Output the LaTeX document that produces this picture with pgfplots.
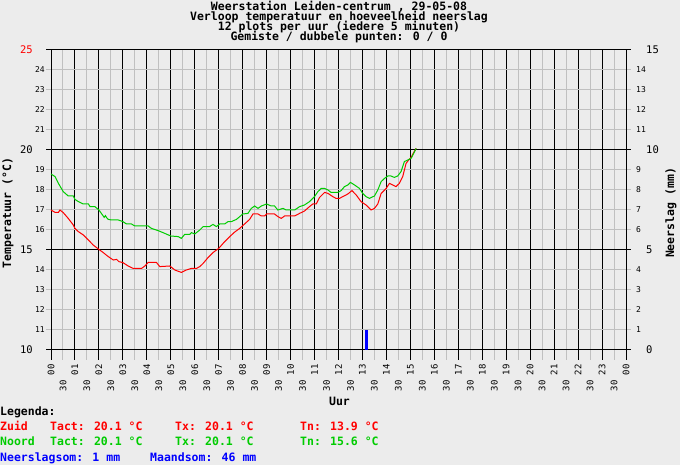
\documentclass[border=0pt]{standalone}
\usepackage{fontspec}
\setmainfont{DejaVu Sans Mono}
\setmonofont{DejaVu Sans Mono}
\usepackage{pgfplots}
\pgfplotsset{compat=1.18}
\definecolor{bg}{RGB}{236,236,236}
\definecolor{gridgray}{RGB}{192,192,192}
\definecolor{mygreen}{RGB}{0,204,0}
\definecolor{myred}{RGB}{255,0,0}
\definecolor{myblue}{RGB}{0,0,255}
\newcommand\tf{\fontsize{8}{8}\selectfont}
\newcommand\xf{\fontsize{9}{9}\selectfont}
\newcommand\minl[1]{{\tf #1}}
\newcommand\majl[1]{{\fontsize{10.5}{10}\selectfont #1}\hspace*{12pt}}
\newcommand\rmajl[1]{\hspace*{10pt}{\fontsize{10.5}{10}\selectfont #1}}
\newcommand\lf{\fontsize{11.5}{12}\selectfont}
\begin{document}
\begin{tikzpicture}
\useasboundingbox (0pt,0pt) rectangle (680pt,465pt);
\fill[bg] (0pt,0pt) rectangle (680pt,465pt);
\begin{axis}[
  at={(51pt,115pt)}, anchor=south west,
  width=575pt, height=300pt, scale only axis,
  xmin=0, xmax=24, ymin=10, ymax=25,
  axis line style={line width=1pt, black},
  xtick={0,...,24},
  xticklabels={00,01,02,03,04,05,06,07,08,09,10,11,12,13,14,15,16,17,18,19,20,21,22,23,00},
  minor x tick num=1,
  ytick={10,...,25},
  yticklabels={\majl{10},\minl{11},\minl{12},\minl{13},\minl{14},\majl{15},\minl{16},\minl{17},\minl{18},\minl{19},\majl{20},\minl{21},\minl{22},\minl{23},\minl{24},\majl{\textcolor{myred}{25}}},
  xmajorgrids, xminorgrids, ymajorgrids,
  major x grid style={black, line width=1pt},
  minor x grid style={gridgray, line width=1pt},
  major y grid style={gridgray, line width=1pt},
  major tick length=0pt, minor tick length=0pt,
  xticklabel style={font=\xf, yshift=-14pt, rotate=90, anchor=east, inner sep=0pt},
  yticklabel style={anchor=east, inner sep=0pt, xshift=-6pt},
  clip=false,
]
% grid extensions and heavy lines
\pgfplotsinvokeforeach{11,12,13,14,16,17,18,19,21,22,23,24}{
  \draw[gridgray, line width=1pt] ([xshift=-5pt]axis cs:0,#1) -- (axis cs:0,#1);
  \draw[gridgray, line width=1pt] (axis cs:24,#1) -- ([xshift=5pt]axis cs:24,#1);
}
\pgfplotsinvokeforeach{10,25}{
  \draw[black, line width=1pt] ([xshift=-5pt]axis cs:0,#1) -- (axis cs:0,#1);
  \draw[black, line width=1pt] (axis cs:24,#1) -- ([xshift=5pt]axis cs:24,#1);
}
\pgfplotsinvokeforeach{15,20}{
  \draw[black, line width=1pt] ([xshift=-5pt]axis cs:0,#1) -- ([xshift=5pt]axis cs:24,#1);
}
\pgfplotsinvokeforeach{0.5,1.5,...,23.5}{
  \draw[gridgray, line width=1pt] (axis cs:#1,10) -- ([yshift=-10pt]axis cs:#1,10);
}
\pgfplotsinvokeforeach{0,...,24}{
  \draw[black, line width=1pt] (axis cs:#1,10) -- ([yshift=-10pt]axis cs:#1,10);
}
% Zuid (red)
\addplot[myred, line width=1pt] coordinates {
(0,17.0)(0.17,16.88)(0.31,16.88)(0.375,17.0)(0.51,16.87)(0.72,16.58)(0.93,16.25)(1.0,16.08)(1.14,15.92)(1.35,15.75)(1.56,15.5)(1.76,15.25)(2.0,15.03)(2.18,14.87)(2.39,14.67)(2.6,14.5)(2.74,14.53)(2.83,14.42)(3.0,14.37)(3.22,14.2)(3.43,14.08)(3.78,14.08)(3.92,14.2)(4.06,14.38)(4.4,14.38)(4.54,14.17)(4.96,14.2)(5.17,14.0)(5.44,13.88)(5.65,14.0)(5.86,14.08)(6.07,14.08)(6.21,14.17)(6.35,14.33)(6.56,14.63)(6.76,14.87)(7.0,15.08)(7.25,15.42)(7.46,15.67)(7.67,15.9)(7.875,16.08)(8.08,16.3)(8.29,16.53)(8.43,16.8)(8.64,16.8)(8.78,16.7)(8.92,16.7)(9.0,16.8)(9.33,16.8)(9.47,16.67)(9.61,16.58)(9.75,16.7)(10.17,16.7)(10.375,16.83)(10.58,16.95)(10.79,17.17)(10.93,17.3)(11.07,17.3)(11.21,17.63)(11.42,17.88)(11.56,17.83)(11.76,17.67)(11.9,17.58)(12.04,17.58)(12.18,17.67)(12.39,17.8)(12.56,17.97)(12.74,17.75)(12.94,17.42)(13.15,17.25)(13.36,17.0)(13.5,17.08)(13.64,17.3)(13.78,17.83)(13.99,18.08)(14.125,18.33)(14.26,18.25)(14.4,18.17)(14.54,18.33)(14.68,18.67)(14.82,19.33)(14.93,19.5)(15.03,19.63)(15.15,19.9)(15.24,20.08)
};
% Noord (green)
\addplot[mygreen, line width=1pt] coordinates {
(0,18.8)(0.17,18.67)(0.31,18.33)(0.51,17.92)(0.72,17.7)(0.93,17.7)(1.0,17.53)(1.14,17.42)(1.35,17.3)(1.56,17.3)(1.63,17.17)(1.83,17.17)(2.0,17.0)(2.18,16.7)(2.22,16.63)(2.27,16.72)(2.32,16.62)(2.39,16.53)(2.53,16.5)(2.81,16.5)(3.0,16.42)(3.15,16.3)(3.36,16.3)(3.5,16.2)(4.06,16.2)(4.19,16.08)(4.47,15.97)(4.75,15.83)(5.0,15.7)(5.31,15.67)(5.44,15.58)(5.58,15.78)(5.79,15.78)(5.86,15.87)(6.0,15.8)(6.21,16.0)(6.35,16.17)(6.62,16.17)(6.76,16.28)(6.9,16.17)(7.04,16.3)(7.25,16.3)(7.39,16.42)(7.53,16.42)(7.74,16.53)(7.88,16.67)(8.0,16.8)(8.22,16.83)(8.36,17.08)(8.5,17.2)(8.64,17.08)(8.78,17.2)(9.0,17.3)(9.19,17.2)(9.33,17.2)(9.47,17.0)(9.68,17.08)(9.82,17.0)(10.17,17.0)(10.38,17.17)(10.58,17.25)(10.79,17.42)(11.0,17.67)(11.14,17.92)(11.28,18.08)(11.42,18.08)(11.56,18.0)(11.69,17.88)(11.97,17.88)(12.11,17.97)(12.25,18.17)(12.39,18.25)(12.5,18.38)(12.67,18.25)(12.875,18.08)(13.01,17.83)(13.15,17.67)(13.29,17.58)(13.5,17.7)(13.64,18.0)(13.78,18.42)(13.92,18.58)(14.06,18.7)(14.19,18.7)(14.33,18.63)(14.47,18.7)(14.61,18.92)(14.75,19.42)(14.89,19.5)(15.03,19.58)(15.14,19.83)(15.24,20.08)
};
\end{axis}
\begin{axis}[
  at={(51pt,115pt)}, anchor=south west,
  width=575pt, height=300pt, scale only axis,
  xmin=0, xmax=24, ymin=0, ymax=15,
  axis y line*=right, axis x line*=bottom,
  axis line style={line width=1pt, black},
  ytick={0,...,15},
  yticklabels={\rmajl{0},\minl{1},\minl{2},\minl{3},\minl{4},\rmajl{5},\minl{6},\minl{7},\minl{8},\minl{9},\rmajl{10},\minl{11},\minl{12},\minl{13},\minl{14},\rmajl{15}},
  yticklabel style={anchor=west, inner sep=0pt, xshift=10pt},
  xtick={0.5,1.5,...,23.5},
  xticklabel={30},
  xticklabel style={font=\xf, yshift=-30pt, rotate=90, anchor=east, inner sep=0pt},
  major tick length=0pt, minor tick length=0pt,
]
\addplot[ybar, bar width=3pt, fill=myblue, draw=none] coordinates {(13.16,1)};
\end{axis}
% titles
\node[anchor=base, font=\lf\bfseries, inner sep=0pt] at (339pt,454.6pt) {Weerstation Leiden-centrum , 29-05-08};
\node[anchor=base, font=\lf\bfseries, inner sep=0pt] at (339pt,444.6pt) {Verloop temperatuur en hoeveelheid neerslag};
\node[anchor=base, font=\lf\bfseries, inner sep=0pt] at (339pt,434.6pt) {12 plots per uur (iedere 5 minuten)};
\node[anchor=base, font=\lf\bfseries, inner sep=0pt] at (339pt,424.6pt) {Gemiste / dubbele punten: 0 / 0};
% axis titles
\node[anchor=base, font=\lf\bfseries, inner sep=0pt] at (339.5pt,59.5pt) {Uur};
\node[rotate=90, font=\lf\bfseries, inner sep=0pt] at (8pt,252pt) {Temperatuur (°C)};
\node[rotate=90, font=\lf\bfseries, inner sep=0pt] at (671pt,252pt) {Neerslag (mm)};
% legend
\begin{scope}[every node/.style={anchor=base west, font=\lf\bfseries, inner sep=0pt}]
\node at (0pt,49pt) {Legenda:};
\node[text=myred] at (0pt,34pt) {Zuid};
\node[text=myred] at (50pt,34pt) {Tact: 20.1 °C};
\node[text=myred] at (175pt,34pt) {Tx: 20.1 °C};
\node[text=myred] at (300pt,34pt) {Tn: 13.9 °C};
\node[text=mygreen] at (0pt,19pt) {Noord};
\node[text=mygreen] at (50pt,19pt) {Tact: 20.1 °C};
\node[text=mygreen] at (175pt,19pt) {Tx: 20.1 °C};
\node[text=mygreen] at (300pt,19pt) {Tn: 15.6 °C};
\node[text=myblue] at (0pt,3.5pt) {Neerslagsom: 1 mm};
\node[text=myblue] at (150pt,3.5pt) {Maandsom: 46 mm};
\end{scope}
\end{tikzpicture}
\end{document}
